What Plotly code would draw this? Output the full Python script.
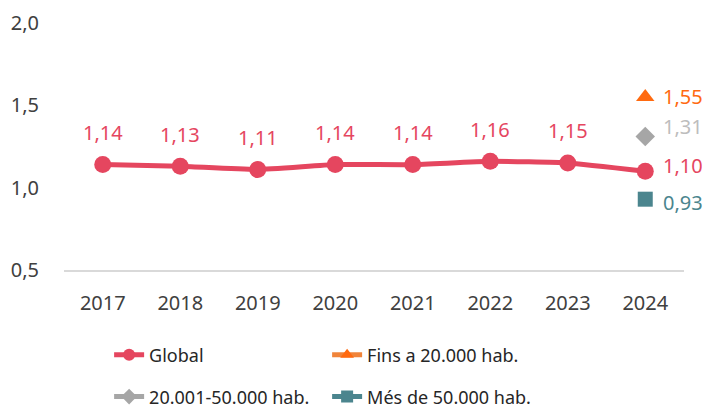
import plotly.graph_objects as go

years = ["2017", "2018", "2019", "2020", "2021", "2022", "2023", "2024"]
global_vals = [1.14, 1.13, 1.11, 1.14, 1.14, 1.16, 1.15, 1.10]
small_vals = [1.55]      # Fins a 20.000 hab. (2024)
mid_vals = [1.31]        # 20.001-50.000 hab. (2024)
large_vals = [0.93]      # Més de 50.000 hab. (2024)
last_year = ["2024"]

FONT = "Noto Sans"
RED = "#E5465F"
ORANGE = "#FF6A10"
ORANGE_LINE = "#F0843A"
GREY = "#A6A6A6"
GREY_TXT = "#BDBDBD"
TEAL = "#4B858E"

def fmt(v):
    return f"{v:.2f}".replace(".", ",")

fig = go.Figure()

fig.add_trace(go.Scatter(
    x=years, y=global_vals, name="Global", mode="lines+markers",
    line=dict(color=RED, width=5, shape="spline", smoothing=0.4),
    marker=dict(color=RED, size=17, symbol="circle"),
    legend="legend",
))
fig.add_trace(go.Scatter(
    x=last_year, y=small_vals, name="Fins a 20.000 hab.", mode="lines+markers",
    line=dict(color=ORANGE_LINE, width=5),
    marker=dict(color=ORANGE, size=16, symbol="triangle-up"),
    legend="legend",
))
fig.add_trace(go.Scatter(
    x=last_year, y=mid_vals, name="20.001-50.000 hab.", mode="lines+markers",
    line=dict(color=GREY, width=5),
    marker=dict(color=GREY, size=15, symbol="diamond"),
    legend="legend2",
))
fig.add_trace(go.Scatter(
    x=last_year, y=large_vals, name="Més de 50.000 hab.", mode="lines+markers",
    line=dict(color=TEAL, width=5),
    marker=dict(color=TEAL, size=15, symbol="square"),
    legend="legend2",
))

# value labels: above the points for the global series, to the right for 2024
annotations = []
for i, v in enumerate(global_vals[:-1]):
    annotations.append(dict(x=i, y=v, xref="x", yref="y", text=fmt(v),
                            showarrow=False, yshift=32,
                            font=dict(color=RED, size=20, family=FONT)))
last_idx = years.index(last_year[0])
side_labels = [
    (global_vals[-1], RED, 6),
    (small_vals[0], ORANGE, 1),
    (mid_vals[0], GREY_TXT, 11),
    (large_vals[0], TEAL, -3),
]
for v, c, ys in side_labels:
    annotations.append(dict(x=last_idx, y=v, xref="x", yref="y", text=fmt(v),
                            showarrow=False, xanchor="left", xshift=16, yshift=ys,
                            height=24, valign="middle",
                            font=dict(color=c, size=20, family=FONT)))

legend_common = dict(orientation="h", xanchor="left", yanchor="middle",
                     xref="container", yref="container",
                     font=dict(size=18, family=FONT, color="#262626"),
                     entrywidth=173, entrywidthmode="pixels",
                     itemsizing="constant",
                     bgcolor="rgba(0,0,0,0)", itemclick=False)

fig.update_layout(
    width=704, height=410,
    margin=dict(l=64, r=20, t=23, b=140, autoexpand=False),
    paper_bgcolor="white", plot_bgcolor="white",
    font=dict(family=FONT, size=20, color="#404040"),
    separators=",.",
    annotations=annotations,
    showlegend=True,
    legend=dict(x=0.155, y=0.134, **legend_common),
    legend2=dict(x=0.155, y=0.032, **legend_common),
    xaxis=dict(type="category", categoryorder="array", categoryarray=years,
               range=[-0.5, 7.5], showgrid=False, showline=True,
               linecolor="#D9D9D9", linewidth=2, ticks="",
               ticklabelstandoff=14, tickfont=dict(size=20, color="#404040")),
    yaxis=dict(range=[0.5, 2.0], tickvals=[0.5, 1.0, 1.5, 2.0],
               tickformat=".1f", showgrid=False, zeroline=False,
               showline=False, ticks="", ticklabelstandoff=24,
               tickfont=dict(size=20, color="#404040")),
)

fig.write_html("out.html")
